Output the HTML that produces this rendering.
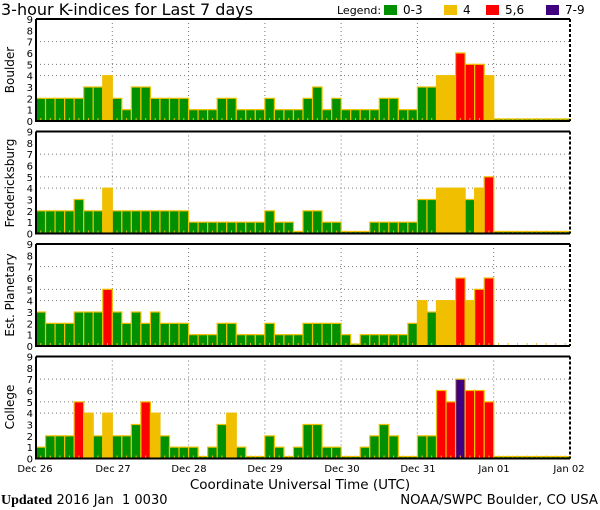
<!DOCTYPE html>
<html><head><meta charset="utf-8"><style>
html,body{margin:0;padding:0;background:#fff;width:600px;height:510px;overflow:hidden}
svg text{font-family:"DejaVu Sans","Liberation Sans",sans-serif;fill:#000}
</style></head><body>
<svg id="s" width="600" height="510" viewBox="0 0 600 510" xmlns="http://www.w3.org/2000/svg">
<text x="1" y="15" font-size="16">3-hour K-indices for Last 7 days</text>
<text x="337" y="14" font-size="11">Legend:</text>
<rect x="384" y="5" width="13" height="10" fill="#009000"/><text x="403" y="14" font-size="12">0-3</text>
<rect x="444" y="5" width="13" height="10" fill="#f0c000"/><text x="463" y="14" font-size="12">4</text>
<rect x="486" y="5" width="13" height="10" fill="#ff0000"/><text x="505" y="14" font-size="12">5,6</text>
<rect x="546" y="5" width="13" height="10" fill="#400080"/><text x="565" y="14" font-size="12">7-9</text>
<text transform="translate(14,70) rotate(-90)" font-size="12" text-anchor="middle">Boulder</text>
<text transform="translate(14,183) rotate(-90)" font-size="12" text-anchor="middle">Fredericksburg</text>
<text transform="translate(14,295) rotate(-90)" font-size="12" text-anchor="middle">Est. Planetary</text>
<text transform="translate(14,407) rotate(-90)" font-size="12" text-anchor="middle">College</text>
<g font-size="10" text-anchor="middle">
<text x="35" y="472">Dec 26</text><text x="113" y="472">Dec 27</text><text x="189" y="472">Dec 28</text>
<text x="265" y="472">Dec 29</text><text x="342" y="472">Dec 30</text><text x="418" y="472">Dec 31</text>
<text x="494" y="472">Jan 01</text><text x="569" y="472">Jan 02</text>
</g>
<text x="300" y="489" font-size="13.5" text-anchor="middle">Coordinate Universal Time (UTC)</text>
<text x="1" y="504" font-size="13"><tspan font-family="Liberation Serif" font-weight="bold" font-size="14">Updated</tspan> 2016 Jan &#160;1 0030</text>
<text x="598" y="504" font-size="13.3" text-anchor="end">NOAA/SWPC Boulder, CO USA</text>
<g id="g"></g>
</svg>
<script>
var data=[
[2,2,2,2,2,3,3,4, 2,1,3,3,2,2,2,2, 1,1,1,2,2,1,1,1, 2,1,1,1,2,3,1,2, 1,1,1,1,2,2,1,1, 3,3,4,4,6,5,5,4, 0,0,0,0,0,0,0,0],
[2,2,2,2,3,2,2,4, 2,2,2,2,2,2,2,2, 1,1,1,1,1,1,1,1, 2,1,1,0,2,2,1,1, 0,0,0,1,1,1,1,1, 3,3,4,4,4,3,4,5, 0,0,0,0,0,0,0,0],
[3,2,2,2,3,3,3,5, 3,2,3,2,3,2,2,2, 1,1,1,2,2,1,1,1, 2,1,1,1,2,2,2,2, 1,0,1,1,1,1,1,2, 4,3,4,4,6,4,5,6, -1,-1,-1,-1,-1,-1,-1,-1],
[1,2,2,2,5,4,2,4, 2,2,3,5,4,2,1,1, 1,0,1,3,4,1,0,0, 2,1,0,1,3,3,1,1, 0,0,1,2,3,2,0,0, 2,2,6,5,7,6,6,5, 0,0,0,0,0,0,0,0]];
var tops=[19,131.5,244,356.5],H=102,X0=36,X1=570,w=(X1-X0)/56,u=H/9;
var s="";
function col(v){return v>=7?"#400080":v>=5?"#ff0000":v==4?"#f0c000":"#009000";}
for(var p=0;p<4;p++){
 var t=tops[p],b=t+H;
 [4,5,7].forEach(function(k){var y=b-k*u;s+='<line x1="'+X0+'" x2="'+X1+'" y1="'+y+'" y2="'+y+'" stroke="#777" stroke-dasharray="1,3"/>';});
 for(var d=1;d<7;d++){var x=X0+d*8*w;s+='<line x1="'+x+'" x2="'+x+'" y1="'+t+'" y2="'+b+'" stroke="#777" stroke-dasharray="1,3"/>';}
 for(var i=0;i<56;i++){var v=data[p][i],x=X0+i*w;
  if(v>=0){var h=v==0?2:v*u;s+='<rect x="'+x+'" y="'+(b-h)+'" width="'+w+'" height="'+h+'" fill="'+col(v)+'" stroke="#f0c000" stroke-width="1.2"/>';}
  s+='<line x1="'+(x+w/2)+'" x2="'+(x+w/2)+'" y1="'+(b-3)+'" y2="'+b+'" stroke="#f0c000"/>';
 }
 s+='<polyline points="'+X0+','+t+' '+X0+','+b+' '+X1+','+b+'" fill="none" stroke="#000" stroke-width="2"/>';
 s+='<line x1="'+X0+'" x2="'+X1+'" y1="'+t+'" y2="'+t+'" stroke="#000" stroke-width="2"/>';
 s+='<line x1="'+X1+'" x2="'+X1+'" y1="'+t+'" y2="'+b+'" stroke="#000" stroke-width="2" stroke-dasharray="3,2"/>';
 for(var k=0;k<=9;k++){s+='<text x="33" y="'+(b-k*u+4)+'" font-size="10" text-anchor="end">'+k+'</text>';}
}
document.getElementById("g").innerHTML=s;
</script>
</body></html>
